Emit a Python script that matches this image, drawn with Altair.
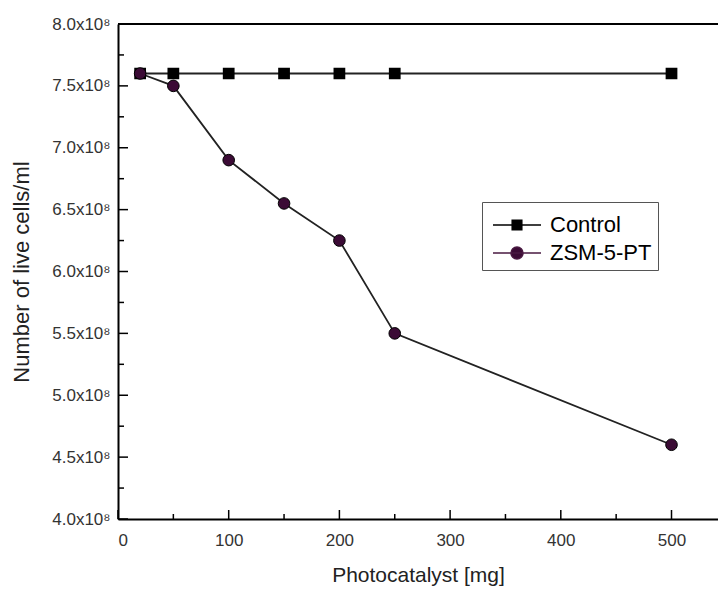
import altair as alt
import pandas as pd

# ---- data ----
photocatalyst = [20, 50, 100, 150, 200, 250, 500]
control = [7.6e8, 7.6e8, 7.6e8, 7.6e8, 7.6e8, 7.6e8, 7.6e8]
zsm = [7.6e8, 7.5e8, 6.9e8, 6.55e8, 6.25e8, 5.5e8, 4.6e8]
series_names = ["Control", "ZSM-5-PT"]

y_major = [4.0e8, 4.5e8, 5.0e8, 5.5e8, 6.0e8, 6.5e8, 7.0e8, 7.5e8, 8.0e8]
y_minor = [4.25e8, 4.75e8, 5.25e8, 5.75e8, 6.25e8, 6.75e8, 7.25e8, 7.75e8]
x_major = [0, 100, 200, 300, 400, 500]
x_minor = [50, 150, 250, 350, 450]

rows = []
for name, vals in zip(series_names, [control, zsm]):
    for m, v in zip(photocatalyst, vals):
        rows.append({"mg": m, "cells": v, "series": name})
df = pd.DataFrame(rows)

W, H = 600, 495
FONT = "Liberation Sans"
LINE = "#222222"
PURPLE = "#3b0b35"

xscale = alt.Scale(domain=[0, 542], nice=False, zero=False)
yscale = alt.Scale(domain=[4e8, 8e8], nice=False, zero=False)

xaxis = alt.Axis(values=x_major, domain=True, domainColor="black", domainWidth=2,
                 ticks=False, tickSize=0, grid=False,
                 labelFontSize=17, labelFont=FONT, labelColor="#333333", labelPadding=13,
                 title="Photocatalyst [mg]", titleFontSize=21, titleFont=FONT,
                 titleFontWeight="normal", titleColor="#222222", titlePadding=16)
yaxis = alt.Axis(values=y_major, domain=True, domainColor="black", domainWidth=2,
                 ticks=False, tickSize=0, grid=False,
                 labelExpr="format(datum.value/1e8,'.1f') + 'x10⁸'",
                 labelFontSize=17, labelFont=FONT, labelColor="#333333", labelPadding=8,
                 title="Number of live cells/ml", titleFontSize=22, titleFont=FONT,
                 titleFontWeight="normal", titleColor="#222222", titlePadding=18)

X = alt.X("mg:Q", scale=xscale, axis=xaxis)
Y = alt.Y("cells:Q", scale=yscale, axis=yaxis)

lines = alt.Chart(df).mark_line(color=LINE, strokeWidth=1.8).encode(x=X, y=Y, detail="series:N")

squares = alt.Chart(df).transform_filter(alt.datum.series == "Control").mark_point(
    shape="square", filled=True, fill="black", stroke="black", size=95, opacity=1
).encode(x=X, y=Y)

circles = alt.Chart(df).transform_filter(alt.datum.series == "ZSM-5-PT").mark_point(
    shape="circle", filled=True, fill=PURPLE, stroke="black", strokeWidth=1, size=135, opacity=1
).encode(x=X, y=Y)

# legend symbols: a line with the marker in the middle (path overflows its 32px box to 48px)
ctrl_path = "M-1.5,0L1.5,0M-0.3,-0.3L0.3,-0.3L0.3,0.3L-0.3,0.3Z"
zsm_path = "M-1.5,0L1.5,0M-0.375,0A0.375,0.375,0,1,1,0.375,0A0.375,0.375,0,1,1,-0.375,0Z"

leg = alt.Legend(title=None, orient="none", legendX=364, legendY=178, direction="vertical",
                 strokeColor="#555555", fillColor="white", padding=6,
                 labelFontSize=22, labelFont=FONT, labelColor="black",
                 symbolSize=1024, symbolStrokeWidth=1.5, symbolOffset=12, labelOffset=16,
                 rowPadding=-2)

# legend-only layer: tiny marks hidden under the real markers
legend_layer = alt.Chart(df).mark_point(filled=True, size=2, opacity=1).encode(
    x=X, y=Y,
    shape=alt.Shape("series:N", scale=alt.Scale(domain=series_names, range=[ctrl_path, zsm_path]), legend=leg),
    fill=alt.Fill("series:N", scale=alt.Scale(domain=series_names, range=["black", PURPLE]), legend=leg),
    stroke=alt.Stroke("series:N", scale=alt.Scale(domain=series_names, range=["black", "#4a1a42"]), legend=leg),
)

TX = alt.X("v:Q", scale=xscale, axis=xaxis)
TY = alt.Y("v:Q", scale=yscale, axis=yaxis)

ymaj = alt.Chart(pd.DataFrame({"v": y_major})).mark_rule(color="black", strokeWidth=1.5).encode(
    y=TY, x=alt.value(0), x2=alt.value(10))
ymin = alt.Chart(pd.DataFrame({"v": y_minor})).mark_rule(color="black", strokeWidth=1.5).encode(
    y=TY, x=alt.value(0), x2=alt.value(6))
xmaj = alt.Chart(pd.DataFrame({"v": x_major})).mark_rule(color="black", strokeWidth=1.5).encode(
    x=TX, y=alt.value(H), y2=alt.value(H - 9))
xmin = alt.Chart(pd.DataFrame({"v": x_minor})).mark_rule(color="black", strokeWidth=1.5).encode(
    x=TX, y=alt.value(H), y2=alt.value(H - 5))

# top frame line (the right side of the frame lies outside the cropped figure)
top_frame = alt.Chart(pd.DataFrame({"v": [0]})).mark_rule(color="black", strokeWidth=2).encode(
    x=alt.value(0), x2=alt.value(W), y=alt.value(0))

chart = alt.layer(lines, legend_layer, ymaj, ymin, xmaj, xmin, top_frame, squares, circles).properties(
    width=W, height=H,
    autosize=alt.AutoSizeParams(type="none"),
    padding={"left": 118, "top": 24, "right": 0, "bottom": 74},
    background="white",
).configure_view(stroke=None)

chart.save("out.html", embed_options={"renderer": "svg", "actions": False})
